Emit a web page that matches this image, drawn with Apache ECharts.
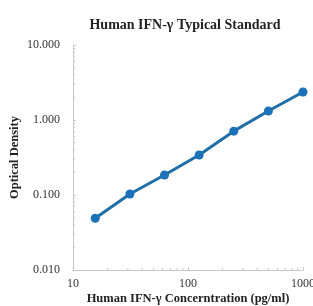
<!DOCTYPE html>
<html>
<head>
<meta charset="utf-8">
<script src="https://cdn.jsdelivr.net/npm/echarts@6/dist/echarts.min.js"></script>
<style>
  html, body { margin: 0; padding: 0; background: #fff; }
  #chart { width: 313px; height: 306px; }
</style>
</head>
<body>
<div id="chart"></div>
<script>
// standard curve
var concentrations = [15.6, 31.25, 62.5, 125, 250, 500, 1000];
var densities = [0.049, 0.103, 0.185, 0.341, 0.71, 1.32, 2.36];
var xDecades = [10, 100];
var yDecades = [0.01, 0.1, 1];

var serif = '"Liberation Serif", "DejaVu Serif", serif';
var tickColor = '#c8c8c8';
var chart = echarts.init(document.getElementById('chart'));

var points = concentrations.map(function (c, i) { return [c, densities[i]]; });

chart.setOption({
  animation: false,
  title: {
    text: 'Human IFN-γ Typical Standard',
    left: 180,
    textAlign: 'center',
    top: 13,
    textStyle: { fontFamily: serif, fontSize: 14, fontWeight: 'bold', color: '#222' }
  },
  grid: { left: 73, right: 10, top: 45, bottom: 36, outerBoundsMode: 'none', containLabel: false },
  xAxis: {
    type: 'log',
    logBase: 10,
    min: 10,
    max: 1000,
    name: 'Human IFN-γ Concerntration (pg/ml)',
    nameLocation: 'middle',
    nameGap: 22,
    nameMoveOverlap: false,
    nameTextStyle: { fontFamily: serif, fontSize: 12.5, fontWeight: 'bold', color: '#222' },
    axisLine: { lineStyle: { color: tickColor } },
    axisTick: { inside: true, length: 3, lineStyle: { color: tickColor } },
    axisLabel: {
      fontFamily: serif, fontSize: 12, color: '#333', margin: 8,
      formatter: function (v) { return String(v); }
    },
    splitLine: { show: false }
  },
  yAxis: {
    type: 'log',
    logBase: 10,
    min: 0.01,
    max: 10,
    name: 'Optical Density',
    nameLocation: 'middle',
    nameGap: 52,
    nameMoveOverlap: false,
    nameTextStyle: { fontFamily: serif, fontSize: 12.5, fontWeight: 'bold', color: '#222' },
    axisLine: { show: true, lineStyle: { color: tickColor } },
    axisTick: { show: true, inside: true, length: 3, lineStyle: { color: tickColor } },
    axisLabel: {
      fontFamily: serif, fontSize: 12, color: '#333', margin: 13,
      formatter: function (v) { return v.toFixed(3); }
    },
    splitLine: { show: false }
  },
  series: [{
    type: 'line',
    data: points,
    symbol: 'circle',
    symbolSize: 9,
    itemStyle: { color: '#1c72b8' },
    lineStyle: { color: '#1f6ea8', width: 3 }
  }]
});

// minor ticks (2..9 within each decade), placed through the axis scales
var graphics = [];
xDecades.forEach(function (d) {
  for (var k = 2; k <= 9; k++) {
    var p = chart.convertToPixel({ xAxisIndex: 0 }, d * k);
    var base = chart.convertToPixel({ yAxisIndex: 0 }, 0.01);
    graphics.push({ type: 'line', shape: { x1: p, y1: base, x2: p, y2: base - 2 },
      style: { stroke: tickColor, lineWidth: 1 }, silent: true });
  }
});
yDecades.forEach(function (d) {
  for (var k = 2; k <= 9; k++) {
    var p = chart.convertToPixel({ yAxisIndex: 0 }, d * k);
    var base = chart.convertToPixel({ xAxisIndex: 0 }, 10);
    graphics.push({ type: 'line', shape: { x1: base, y1: p, x2: base + 2, y2: p },
      style: { stroke: tickColor, lineWidth: 1 }, silent: true });
  }
});
chart.setOption({ graphic: graphics });
</script>
</body>
</html>
